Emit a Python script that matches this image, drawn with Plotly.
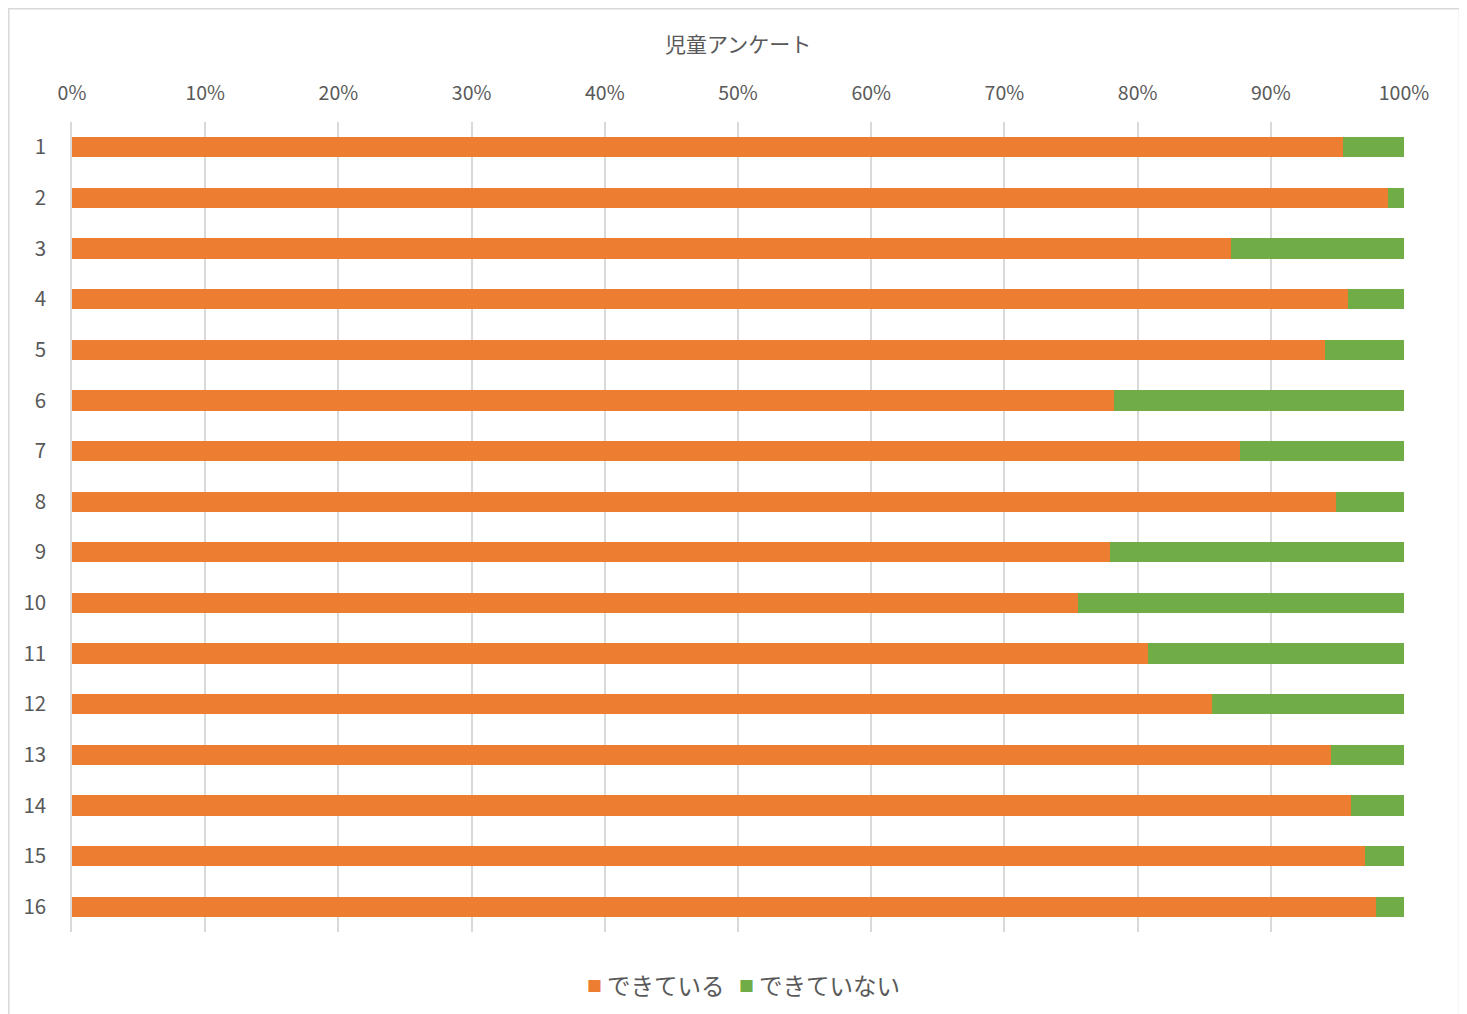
import plotly.graph_objects as go

categories = [str(i) for i in range(1, 17)]
done = [95.4, 98.8, 87.0, 95.8, 94.1, 78.2, 87.7, 94.9, 77.9, 75.5, 80.8, 85.6, 94.5, 96.0, 97.1, 97.9]
not_done = [round(100 - v, 1) for v in done]
series_names = ["できている", "できていない"]
colors = ["#ED7D31", "#70AD47"]
tick_vals = list(range(0, 101, 10))
tick_text = [f"{v}%" for v in tick_vals]

FONT = "Noto Sans CJK JP"
GRAY = "#595959"
GRID = "#D9D9D9"

fig = go.Figure()
for name, vals, col in zip(series_names, [done, not_done], colors):
    fig.add_trace(go.Bar(
        y=categories, x=vals, name=name, orientation="h",
        marker=dict(color=col, line=dict(width=0)),
    ))

# page has an 8px body margin: figure pixel = screen pixel - 8
OFF = 8
W, H = 1467, 1014
L, R, T, B = 72 - OFF, W - (1404 - OFF), 122 - OFF, H - (932 - OFF)
pw, ph = W - L - R, H - T - B

def px_x(x):
    return (x - OFF - L) / pw

def px_y(y):
    return (H - B - (y - OFF)) / ph

annotations = [dict(text="児童アンケート", xref="paper", yref="paper",
                    x=px_x(738), y=px_y(43), xanchor="center", yanchor="middle",
                    showarrow=False, font=dict(size=21, color=GRAY, family=FONT))]
# legend drawn as text: colored square + label
legend_items = [(594, 605), (746, 757)]
for (sq_x, tx_x), name, col in zip(legend_items, series_names, colors):
    annotations.append(dict(text="■", xref="paper", yref="paper", x=px_x(sq_x), y=px_y(985),
                            xanchor="center", yanchor="middle", showarrow=False,
                            font=dict(size=15, color=col, family=FONT)))
    annotations.append(dict(text=name, xref="paper", yref="paper", x=px_x(tx_x), y=px_y(985),
                            xanchor="left", yanchor="middle", showarrow=False,
                            font=dict(size=23.5, color=GRAY, family=FONT)))

fig.update_layout(
    width=W, height=H,
    barmode="stack", bargap=0.6,
    margin=dict(l=L, r=R, t=T, b=B, autoexpand=False),
    paper_bgcolor="white", plot_bgcolor="white",
    font=dict(family=FONT, color=GRAY, size=18),
    showlegend=False,
    xaxis=dict(side="top", range=[0, 100], tickvals=tick_vals, ticktext=tick_text,
               showgrid=True, gridcolor=GRID, gridwidth=1.5, zeroline=False,
               showline=False, ticks="", ticklabelstandoff=17,
               tickfont=dict(size=19.5, color=GRAY), fixedrange=True),
    yaxis=dict(autorange="reversed", type="category", showgrid=False, zeroline=False,
               showline=True, linecolor=GRID, linewidth=1.5, ticks="", ticklabelstandoff=20,
               tickfont=dict(size=20.5, color=GRAY)),
    shapes=[dict(type="rect", xref="paper", yref="paper",
                 x0=px_x(8.8), x1=px_x(1459.5), y0=px_y(1030), y1=px_y(8.8),
                 line=dict(color=GRID, width=1.5), fillcolor="rgba(0,0,0,0)", layer="below")],
    annotations=annotations,
)

fig.write_html("out.html")
